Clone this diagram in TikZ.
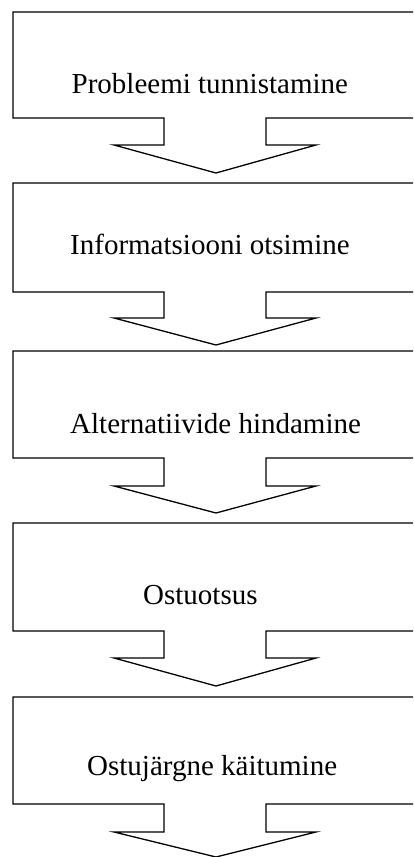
\documentclass[tikz,border=0pt]{standalone}
\usepackage{fontspec}
\setmainfont{Liberation Serif}
\begin{document}
\begin{tikzpicture}[x=1pt,y=-1pt,
  outline/.style={draw=black,line width=1.3pt,line join=miter},
  lbl/.style={anchor=base west,inner sep=0pt,font=\fontsize{29}{35}\selectfont}]
% page frame
\useasboundingbox (0,0) rectangle (413,857);
\clip (0,0) rectangle (413,857);
% box with a downward block arrow under it: top, bottom, stem end, tip
\newcommand{\stepshape}[4]{%
  \draw[outline] (266,#2) -- (422,#2) -- (422,#1) -- (13,#1) -- (13,#2)
    -- (164,#2) -- (164,#3) -- (114,#3) -- (216,#4) -- (316,#3)
    -- (266,#3) -- cycle;}
\stepshape{12}{118}{145}{173}
\stepshape{183}{292}{318}{345}
\stepshape{351}{458}{486}{513}
\stepshape{523}{631}{658}{686}
\stepshape{697}{804}{832}{857}
\node[lbl] (s1) at (71.5,93) {Probleemi tunnistamine};
\node[lbl] (s2) at (70,254) {Informatsiooni otsimine};
\node[lbl] (s3) at (70,433) {Alternatiivide hindamine};
\node[lbl] (s4) at (143,604) {Ostuotsus};
\node[lbl] (s5) at (87,775) {Ostujärgne käitumine};
\end{tikzpicture}
\end{document}
